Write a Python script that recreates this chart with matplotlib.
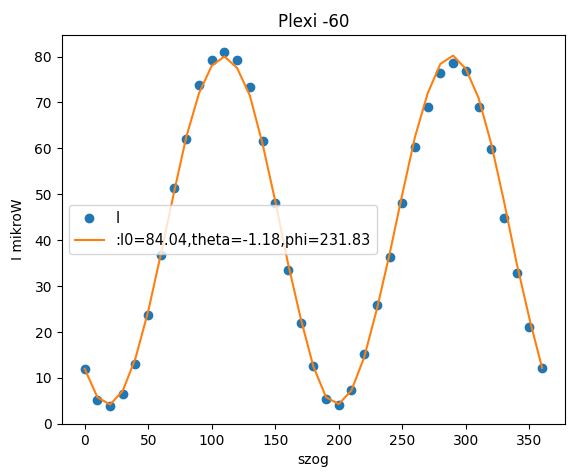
import matplotlib
matplotlib.use("Agg")
import matplotlib.pyplot as plt

# measured angles (deg) and intensities
szog = [0, 10, 20, 30, 40, 50, 60, 70, 80, 90, 100, 110, 120, 130, 140, 150,
        160, 170, 180, 190, 200, 210, 220, 230, 240, 250, 260, 270, 280, 290,
        300, 310, 320, 330, 340, 350, 360]
intensity = [12.0, 5.3, 3.8, 6.4, 13.0, 23.8, 36.7, 51.3, 62.0, 73.8, 79.2,
             81.0, 79.2, 73.4, 61.6, 48.2, 33.5, 22.0, 12.5, 5.5, 4.0, 7.3,
             15.3, 25.9, 36.4, 48.1, 60.3, 69.1, 76.4, 78.6, 76.8, 69.0, 59.8,
             44.8, 32.8, 21.0, 12.2]
# fitted curve evaluated at the same angles
fit = [12.0, 5.8, 4.2, 7.2, 14.3, 24.5, 37.0, 50.0, 62.5, 72.0, 78.0, 80.0,
       77.5, 71.5, 61.0, 48.5, 35.0, 23.0, 12.5, 5.8, 4.3, 7.3, 14.5, 25.0,
       37.0, 50.0, 62.5, 72.0, 78.4, 80.2, 77.3, 71.0, 61.0, 48.5, 35.0,
       23.0, 12.2]

fit_label = ":I0=84.04,theta=-1.18,phi=231.83"

fig, ax = plt.subplots(figsize=(5.83, 4.72), dpi=100)
fig.subplots_adjust(left=0.106, right=0.969, top=0.926, bottom=0.102)

ax.plot(szog, intensity, "o", label="I")
ax.plot(szog, fit, "-", label=fit_label)

ax.set_ylim(0, 84.7)
ax.set_title("Plexi -60")
ax.set_xlabel("szog")
ax.set_ylabel("I mikroW", labelpad=7)
ax.legend(loc="center left", fontsize=10.45)

fig.savefig("out.png", dpi=100)
